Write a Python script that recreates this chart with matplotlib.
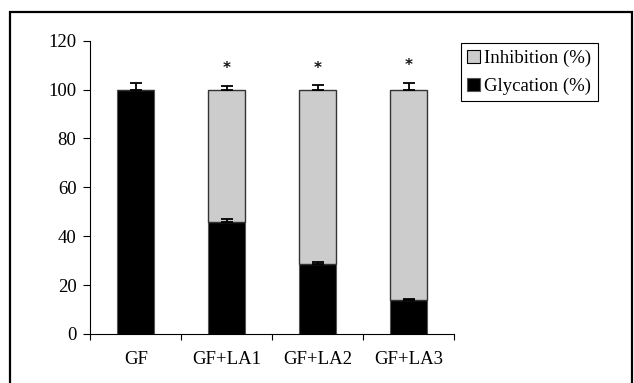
import matplotlib
matplotlib.use("Agg")
import matplotlib.pyplot as plt
from matplotlib.patches import Rectangle, Patch
import numpy as np

plt.rcParams['font.family'] = ['Liberation Serif', 'DejaVu Serif']

categories = ["GF", "GF+LA1", "GF+LA2", "GF+LA3"]
glycation = [100.0, 45.7, 28.5, 13.9]
glycation_err = [2.8, 1.2, 0.8, 0.4]
inhibition = [0.0, 54.3, 71.5, 86.1]
total_err = [0.0, 1.5, 2.0, 2.5]
star_y = [None, 108.5, 108.5, 110.0]

FS = 13.5

fig = plt.figure(figsize=(6.34, 3.83), dpi=100)
ax = fig.add_axes([0.1424, 0.128, 0.5742, 0.7657])

x = np.arange(len(categories))
w = 0.41
ax.bar(x, glycation, w, color='black', edgecolor='#555555', linewidth=0.8, zorder=2,
       label='Glycation (%)')
ax.bar(x, inhibition, w, bottom=glycation, color='#cccccc', edgecolor='#333333',
       linewidth=1.0, zorder=2, label='Inhibition (%)')

for i in range(len(categories)):
    ax.errorbar(x[i], glycation[i], yerr=[[0], [glycation_err[i]]], fmt='none',
                ecolor='black', elinewidth=1.3, capsize=4, capthick=1.3, zorder=3)
    if inhibition[i] > 0:
        top = glycation[i] + inhibition[i]
        ax.errorbar(x[i], top, yerr=[[0], [total_err[i]]], fmt='none',
                    ecolor='black', elinewidth=1.3, capsize=4, capthick=1.3, zorder=3)
    if star_y[i] is not None:
        ax.text(x[i], star_y[i], '*', ha='center', va='center', fontsize=11,
                family='DejaVu Sans', color='#111111', fontweight='bold')

ax.set_xlim(-0.5, 3.5)
ax.set_ylim(0, 120)
ax.set_yticks(np.arange(0, 121, 20))
ax.set_xticks(np.arange(-0.5, 3.6, 1.0))
ax.set_xticklabels([])
ax.set_xticks(x, minor=True)
ax.set_xticklabels(categories, minor=True, fontsize=FS)
ax.tick_params(axis='x', which='major', direction='out', length=4.5, width=0.8)
ax.tick_params(axis='x', which='minor', length=0, pad=12)
ax.tick_params(axis='y', direction='out', length=5, width=0.8, pad=5, labelsize=FS)
for s in ['top', 'right']:
    ax.spines[s].set_visible(False)
for s in ['left', 'bottom']:
    ax.spines[s].set_linewidth(0.8)

handles = [Patch(facecolor='#cccccc', edgecolor='black', linewidth=0.8),
           Patch(facecolor='black', edgecolor='#555555', linewidth=0.8)]
leg = fig.legend(handles, ['Inhibition (%)', 'Glycation (%)'],
                 loc='upper left', bbox_to_anchor=(460.7 / 634, 1 - 43.3 / 383),
                 fontsize=FS, frameon=True, fancybox=False, edgecolor='black',
                 framealpha=1, handlelength=0.7, handleheight=0.7,
                 handletextpad=0.2, borderpad=0.35, labelspacing=0.55,
                 borderaxespad=0)
leg.get_frame().set_linewidth(0.8)

fig.patches.append(Rectangle((10 / 634, -0.1), (632 - 10) / 634, 1.1 - 12 / 383,
                             transform=fig.transFigure, fill=False,
                             edgecolor='black', linewidth=1.6, clip_on=False))

fig.savefig('out.png', dpi=100)
